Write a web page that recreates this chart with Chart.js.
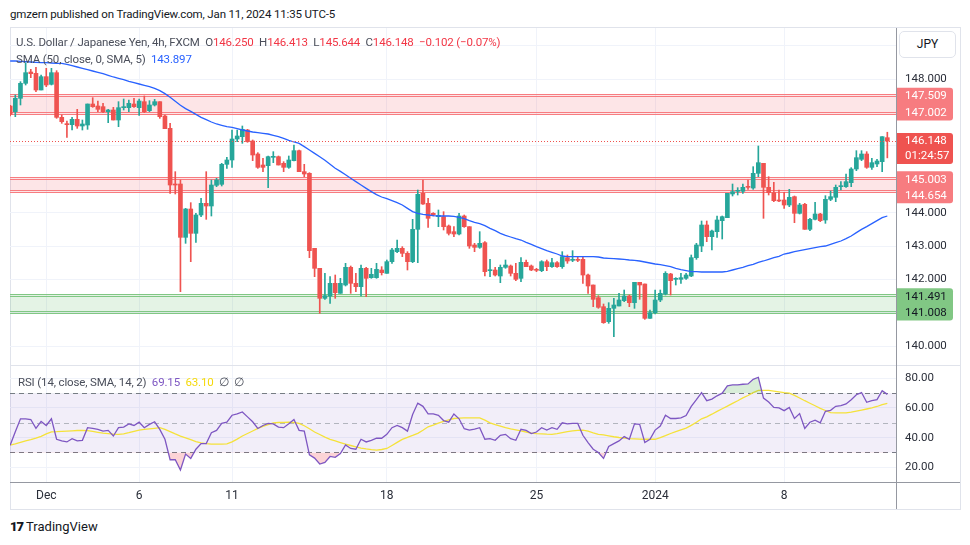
<!DOCTYPE html>
<html>
<head>
<meta charset="utf-8">
<title>USDJPY 4h</title>
<script src="https://cdn.jsdelivr.net/npm/chart.js@4.4.1/dist/chart.umd.min.js"></script>
<style>
  html, body { margin: 0; padding: 0; background: #fff; }
  body { width: 970px; height: 545px; position: relative; overflow: hidden; font-family: Roboto, "Noto Sans", sans-serif; color: #131722; }
  .abs { position: absolute; white-space: nowrap; }
  #published { left: 10px; top: 7px; font-size: 11.5px; letter-spacing: -0.15px; }
  #frame { left: 10px; top: 27px; width: 949px; height: 481px; border: 1px solid #E0E3EB; }
  #sep1 { left: 10px; top: 365px; width: 950px; height: 1px; background: #E0E3EB; }
  #sep2 { left: 10px; top: 482px; width: 950px; height: 1px; background: #9598A1; }
  #vaxis { left: 896px; top: 28px; width: 1px; height: 481px; background: #9598A1; }
  #mainWrap { left: 10px; top: 28px; }
  #rsiWrap { left: 10px; top: 366px; }
  .legend { font-size: 11.5px; letter-spacing: -0.15px; color: #4A4E5A; }
  #legend1 { left: 16px; top: 35px; }
  #legend2 { left: 16px; top: 52px; }
  #rsiLegend { left: 18px; top: 375px; }
  .red { color: #F23645; }
  #jpy { left: 899px; top: 31px; width: 55px; height: 25px; border: 1px solid #E0E3EB; border-radius: 5px; font-size: 12px; line-height: 25px; text-align: center; background: #fff; }
  #footer { left: 10px; top: 519px; font-size: 13px; color: #131722; }
  #footer b { font-weight: 900; letter-spacing: -1px; margin-right: 3px; }
</style>
</head>
<body>
<div class="abs" id="published">gmzern published on TradingView.com, Jan 11, 2024 11:35 UTC-5</div>
<div class="abs" id="frame"></div>
<div class="abs" id="mainWrap"><canvas id="mainChart" width="950" height="337"></canvas></div>
<div class="abs" id="rsiWrap"><canvas id="rsiChart" width="950" height="143"></canvas></div>
<div class="abs" id="sep1"></div>
<div class="abs" id="sep2"></div>
<div class="abs" id="vaxis"></div>
<div class="abs legend" id="legend1">U.S. Dollar / Japanese Yen, 4h, FXCM&nbsp; O<span class="red">146.250</span>&nbsp; H<span class="red">146.413</span>&nbsp; L<span class="red">145.644</span>&nbsp; C<span class="red">146.148</span>&nbsp; <span class="red">−0.102 (−0.07%)</span></div>
<div class="abs legend" id="legend2">SMA (50, close, 0, SMA, 5)&nbsp; <span style="color:#2962FF">143.897</span></div>
<div class="abs legend" id="rsiLegend">RSI (14, close, SMA, 14, 2)&nbsp; <span style="color:#7E57C2">69.15</span>&nbsp; <span style="color:#F5D90A">63.10</span>&nbsp; ∅&nbsp; ∅</div>
<div class="abs" id="jpy">JPY</div>
<div class="abs" id="footer"><b>17</b>TradingView</div>

<script>
// 4h candles, Nov 30 2023 .. Jan 11 2024 (index 0 is cut by the left edge)
const opens = [
  147.20,147.03,147.43,147.88,148.22,148.18,147.68,148.08,147.85,148.20,
  146.86,146.66,146.64,146.80,146.60,146.63,147.26,147.20,147.18,147.03,
  147.08,146.78,147.15,147.15,147.26,147.15,147.33,147.06,147.23,147.33,
  146.90,146.53,144.85,144.86,143.26,144.11,143.38,143.93,144.28,144.20,
  144.82,144.85,145.45,145.58,146.21,146.28,146.48,146.15,145.76,145.43,
  145.41,145.66,145.68,145.48,145.36,145.56,145.86,145.23,145.18,142.93,
  142.33,141.43,141.50,141.88,141.58,141.83,142.36,141.88,141.78,142.33,
  142.05,142.05,142.28,142.18,142.53,142.83,142.93,142.78,142.53,143.50,
  144.58,144.28,143.98,143.88,143.88,143.60,143.43,143.36,143.90,143.58,
  143.03,142.96,143.10,142.26,142.28,142.10,142.36,142.40,142.18,142.03,
  142.51,142.40,142.30,142.26,142.53,142.38,142.50,142.38,142.65,142.57,
  142.59,142.60,142.13,141.83,141.45,141.18,140.73,141.13,141.20,141.36,
  141.50,141.30,141.91,141.86,140.83,141.00,141.38,141.56,142.16,142.00,
  142.00,142.03,142.10,142.65,143.00,143.63,143.28,143.43,143.76,143.85,
  144.56,144.64,144.64,144.78,144.74,145.18,145.48,144.76,144.60,144.38,
  144.38,144.23,144.48,143.98,144.25,143.50,143.80,143.96,143.78,144.40,
  144.46,144.78,144.78,144.90,145.31,145.60,145.76,145.36,145.46,145.53,
  146.25
];
const highs = [
  147.22,147.53,147.93,148.50,148.30,148.36,148.13,148.33,148.33,148.26,
  146.93,146.75,146.86,147.10,146.78,147.26,147.45,147.35,147.28,147.10,
  147.16,147.33,147.41,147.38,147.43,147.41,147.50,147.36,147.40,147.33,
  146.93,146.68,145.23,144.98,144.13,144.30,143.98,144.43,145.23,144.98,
  145.03,145.48,145.66,146.48,146.48,146.60,146.50,146.18,145.80,145.63,
  145.70,145.83,145.70,145.53,145.70,146.03,145.88,145.45,145.20,142.93,
  142.33,142.18,142.08,142.13,142.03,142.48,142.40,142.18,142.43,142.36,
  142.33,142.48,142.38,142.58,142.93,143.18,142.98,142.83,143.80,144.68,
  144.98,144.43,144.00,144.08,144.03,143.63,143.58,143.98,143.93,143.58,
  143.08,143.43,143.13,142.60,142.36,142.43,142.58,142.43,142.48,142.65,
  142.58,142.43,142.33,142.56,142.58,142.63,142.53,142.83,142.73,142.86,
  142.68,142.66,142.16,141.83,141.51,141.26,141.30,141.43,141.58,141.68,
  141.53,141.91,141.91,141.86,141.08,141.68,141.68,142.23,142.18,142.05,
  142.18,142.18,142.73,143.08,143.75,143.75,143.48,143.90,143.90,144.58,
  144.86,144.75,144.86,144.98,145.38,146.00,145.48,145.08,144.91,144.68,
  144.61,144.70,144.50,144.28,144.28,143.83,144.31,143.98,144.51,144.65,
  144.83,144.93,145.16,145.35,145.86,145.86,145.83,145.63,145.60,146.28,
  146.413
];
const lows = [
  146.90,146.88,147.23,147.83,148.05,147.63,147.68,147.78,147.83,146.83,
  146.68,146.26,146.48,146.53,146.48,146.50,147.16,147.03,147.00,146.70,
  146.78,146.58,147.08,147.03,147.16,146.92,147.00,147.03,147.20,146.83,
  146.52,144.58,144.56,141.63,143.08,142.53,143.11,143.88,143.80,143.90,
  144.78,144.80,145.33,145.36,146.13,146.08,146.11,145.56,145.33,145.23,
  144.75,145.50,145.43,145.23,145.33,145.55,145.23,145.08,142.65,142.08,
  140.98,141.40,141.28,141.43,141.58,141.80,141.58,141.63,141.50,141.48,
  142.03,142.03,142.13,142.18,142.48,142.80,142.68,142.28,142.50,142.50,
  144.25,143.56,143.90,143.58,143.48,143.33,143.28,143.33,143.56,142.93,
  142.83,142.93,142.10,142.08,142.10,141.90,142.33,142.10,141.96,141.93,
  142.38,142.26,142.23,142.23,142.26,142.36,142.36,142.33,142.48,142.53,
  142.53,141.88,141.58,141.18,141.13,140.68,140.68,140.28,141.20,141.33,
  141.18,141.13,141.40,140.80,140.83,140.96,141.33,141.53,141.53,141.83,
  141.88,142.00,142.08,142.60,142.83,143.13,142.88,143.26,143.21,143.85,
  144.50,144.53,144.58,144.70,144.70,145.08,143.83,144.53,144.33,144.33,
  144.13,144.18,143.70,143.96,143.50,143.46,143.78,143.73,143.68,144.36,
  144.33,144.68,144.76,144.78,145.26,145.56,145.33,145.30,145.38,145.23,
  145.644
];
const closes = [
  146.95,147.43,147.88,148.20,148.17,147.68,148.08,147.83,148.20,146.86,
  146.73,146.64,146.80,146.60,146.66,147.26,147.18,147.10,147.03,147.08,
  146.78,147.15,147.18,147.28,147.18,147.35,147.03,147.23,147.33,146.88,
  146.52,144.83,144.83,143.26,144.11,143.38,143.93,144.28,144.20,144.83,
  144.98,145.45,145.58,146.21,146.30,146.50,146.13,145.73,145.36,145.36,
  145.68,145.68,145.43,145.36,145.58,145.86,145.23,145.16,142.86,142.33,
  141.43,141.51,141.88,141.60,141.88,142.36,141.88,141.78,142.33,142.03,
  142.15,142.30,142.20,142.53,142.88,142.93,142.78,142.53,143.50,144.55,
  144.26,143.83,143.94,143.92,143.58,143.38,143.36,143.90,143.58,143.00,
  142.96,143.08,142.23,142.28,142.13,142.36,142.43,142.18,142.00,142.51,
  142.38,142.28,142.27,142.53,142.38,142.50,142.38,142.68,142.55,142.59,
  142.57,142.13,141.80,141.40,141.16,140.70,141.13,141.23,141.38,141.50,
  141.30,141.91,141.83,140.83,141.00,141.38,141.58,142.18,141.96,142.02,
  142.05,142.13,142.65,143.03,143.63,143.28,143.45,143.78,143.88,144.58,
  144.63,144.66,144.76,144.76,145.18,145.50,144.76,144.60,144.36,144.35,
  144.23,144.46,143.98,144.23,143.50,143.80,143.96,143.76,144.40,144.48,
  144.76,144.81,144.93,145.31,145.65,145.76,145.36,145.50,145.55,146.28,
  146.148
];
// SMA(50) as drawn
const sma50 = [
  148.55,148.55,148.54,148.53,148.52,148.51,148.50,148.50,148.49,148.48,
  148.48,148.45,148.41,148.37,148.33,148.29,148.25,148.21,148.17,148.12,
  148.07,148.03,147.99,147.94,147.90,147.86,147.82,147.78,147.73,147.66,
  147.57,147.46,147.34,147.22,147.12,147.04,146.95,146.86,146.79,146.72,
  146.66,146.62,146.58,146.56,146.52,146.48,146.45,146.42,146.40,146.38,
  146.36,146.32,146.28,146.23,146.17,146.12,146.08,145.98,145.88,145.78,
  145.68,145.57,145.45,145.33,145.24,145.14,145.03,144.93,144.83,144.73,
  144.63,144.54,144.47,144.42,144.36,144.30,144.23,144.13,144.03,143.98,
  143.95,143.93,143.91,143.90,143.90,143.90,143.89,143.86,143.82,143.76,
  143.71,143.67,143.61,143.53,143.46,143.38,143.32,143.27,143.22,143.18,
  143.11,143.05,142.98,142.92,142.86,142.81,142.76,142.70,142.68,142.68,
  142.68,142.68,142.68,142.68,142.67,142.64,142.63,142.62,142.61,142.60,
  142.58,142.57,142.55,142.52,142.49,142.46,142.44,142.41,142.38,142.33,
  142.29,142.26,142.23,142.23,142.22,142.22,142.22,142.22,142.22,142.24,
  142.28,142.32,142.36,142.41,142.45,142.51,142.55,142.60,142.65,142.69,
  142.76,142.79,142.83,142.86,142.89,142.92,142.95,142.98,143.00,143.05,
  143.10,143.15,143.22,143.30,143.40,143.50,143.58,143.67,143.76,143.85,
  143.90
];
// RSI(14) and its SMA(14)
const rsiValues = [
  34.9,44.0,52.7,52.7,52.2,46.2,50.9,48.2,52.7,38.9,
  37.8,37.1,39.3,37.8,38.2,46.7,46.2,45.6,44.4,44.9,
  41.1,46.7,47.1,49.3,48.2,50.4,46.7,48.9,50.7,45.6,
  38.9,25.1,25.1,18.2,28.9,26.0,32.2,36.0,36.0,43.3,
  44.9,49.6,50.4,55.1,56.0,57.3,54.0,50.7,46.2,48.2,
  49.6,49.3,47.1,46.7,49.3,52.2,44.9,44.4,28.4,26.2,
  22.2,23.3,27.3,26.7,29.3,35.1,32.7,32.2,38.9,37.1,
  38.2,39.6,39.6,42.2,46.7,48.2,46.7,44.4,55.6,63.3,
  61.1,56.0,56.0,55.0,51.5,50.4,56.0,52.7,46.0,45.1,
  45.8,46.7,38.9,39.3,38.2,41.6,42.2,39.3,38.2,45.6,
  44.9,42.7,43.8,46.7,45.1,46.7,45.6,50.0,49.3,49.6,
  49.6,41.6,36.7,32.2,30.0,26.0,34.0,36.0,37.8,40.7,
  38.9,49.3,48.9,36.7,38.9,45.1,47.8,55.1,52.9,52.9,
  53.3,54.9,61.1,65.6,70.4,64.9,66.0,68.2,70.0,74.9,
  75.6,75.6,76.0,76.2,79.3,80.7,66.7,64.0,60.4,60.0,
  58.2,60.4,52.9,56.2,46.2,50.4,51.8,50.0,57.8,58.4,
  61.1,61.6,62.7,65.6,68.9,70.4,63.8,64.9,65.6,71.6,
  69.15
];
const rsiMaValues = [
  34.9,35.8,36.8,37.8,38.6,39.6,40.9,42.5,43.9,44.0,
  44.2,44.4,44.6,44.8,44.9,44.7,44.2,43.6,43.0,42.7,
  42.4,42.2,42.5,43.3,44.3,45.1,45.5,45.9,46.3,46.7,
  45.5,44.1,42.5,41.0,39.8,38.6,37.3,36.5,36.0,35.6,
  35.6,35.6,35.8,37.1,39.0,41.1,42.8,44.5,46.2,47.6,
  48.8,50.0,50.2,50.3,50.4,50.2,49.6,48.0,46.0,43.8,
  42.1,40.3,38.9,37.8,36.7,35.6,34.7,33.8,33.0,32.4,
  31.9,31.6,32.0,32.7,34.7,36.8,38.8,40.2,41.5,42.9,
  45.0,47.3,48.5,49.8,51.0,52.0,52.9,53.1,53.3,53.3,
  53.3,53.3,51.8,50.0,48.7,47.7,46.7,45.9,45.2,44.5,
  43.8,43.1,42.7,42.5,42.3,42.2,42.7,43.4,44.0,44.5,
  44.9,45.1,44.4,43.2,42.2,41.8,41.2,40.6,40.1,39.7,
  39.3,39.2,39.0,38.9,38.9,38.9,40.0,41.3,42.8,44.0,
  45.2,46.4,48.3,50.4,52.7,54.0,55.8,57.7,59.5,61.2,
  63.1,64.9,66.8,68.4,70.3,71.8,71.8,71.8,71.4,70.9,
  70.4,70.0,68.5,66.7,64.9,63.2,61.5,59.7,58.3,56.9,
  56.7,56.7,56.7,57.2,57.9,58.6,59.3,60.0,61.0,62.3,
  63.1
];

// time axis: candle index of each date label
const tickIdx = [7, 25, 43, 73, 102, 125, 150];
const tickLabels = ['Dec', '6', '11', '18', '25', '2024', '8'];
const priceTicks = [140, 141, 142, 143, 144, 145, 146, 147, 148, 149];
const rsiTicks = [20, 40, 60, 80];
const rsiLevels = [70, 50, 30];

// drawn zones (upper / lower price)
const zoneHigh = [147.509, 145.003, 141.491];
const zoneLow = [147.002, 144.654, 141.008];
const countdown = '01:24:57';

const GREEN = '#26A69A';
const RED = '#EF5350';
const GRID = '#F0F3FA';
const AXIS_TEXT = '#2A2E39';
const zoneFill = ['rgba(242,54,69,0.13)', 'rgba(242,54,69,0.13)', 'rgba(76,175,80,0.15)'];
const zoneLine = ['#F77C80', '#F77C80', '#81C784'];
const zoneTag = ['#F77C80', '#F77C80', '#81C784'];
const zoneTagText = ['#FFFFFF', '#FFFFFF', '#131722'];

const X_MIN = -0.03;
const X_MAX = 171.68;
const last = closes.length - 1;
const idx = closes.map((_, i) => i);
const candleColors = idx.map(i => closes[i] >= opens[i] ? GREEN : RED);

Chart.defaults.font.family = 'Roboto, "Noto Sans", sans-serif';
Chart.defaults.animation = false;

function noPad(s) {
    s.paddingTop = 0;
    s.paddingBottom = 0;
    s.paddingLeft = 0;
    s.paddingRight = 0;
}

function timeAxis(showLabels) {
    return {
        type: 'linear',
        min: X_MIN,
        max: X_MAX,
        offset: false,
        grid: { color: GRID, drawTicks: false, offset: false },
        border: { display: false },
        afterBuildTicks: s => { s.ticks = tickIdx.map(v => ({ value: v })); },
        ticks: {
            display: showLabels,
            autoSkip: false,
            maxRotation: 0,
            padding: 6,
            color: AXIS_TEXT,
            font: { size: 12 },
            callback: (v, i) => tickLabels[i]
        },
        afterFit: s => {
            s.height = showLabels ? 26.5 : 0;
            noPad(s);
        }
    };
}

function roundRect(ctx, x, y, w, h) {
    ctx.beginPath();
    ctx.roundRect(x, y, w, h, [0, 3, 3, 0]);
    ctx.fill();
}

/**
 * Zones, last price line and price tags of the main pane
 */
const pricePlugin = {
    id: 'priceExtras',
    beforeDatasetsDraw(chart) {
        const { ctx, chartArea: a, scales: { y } } = chart;
        ctx.save();
        zoneHigh.forEach((hi, k) => {
            const top = Math.round(y.getPixelForValue(hi));
            const bot = Math.round(y.getPixelForValue(zoneLow[k]));
            ctx.fillStyle = zoneFill[k];
            ctx.fillRect(a.left, top - 2, a.width, bot - top + 4);
            ctx.fillStyle = zoneLine[k];
            [top - 2, top, bot - 1, bot + 1].forEach(p => ctx.fillRect(a.left, p, a.width, 1));
        });
        ctx.restore();
    },
    afterDatasetsDraw(chart) {
        const { ctx, chartArea: a, scales: { y } } = chart;
        const py = Math.round(y.getPixelForValue(closes[last])) + 0.5;
        ctx.save();
        ctx.strokeStyle = RED;
        ctx.lineWidth = 1;
        ctx.setLineDash([1, 2]);
        ctx.beginPath();
        ctx.moveTo(a.left, py);
        ctx.lineTo(a.right, py);
        ctx.stroke();
        ctx.restore();
    },
    afterDraw(chart) {
        const { ctx, chartArea: a, scales: { y } } = chart;
        const x0 = a.right + 1;
        const tx = a.right + 9;
        ctx.save();
        ctx.font = '11.5px Roboto, sans-serif';
        ctx.textBaseline = 'middle';
        ctx.textAlign = 'left';
        zoneHigh.forEach((hi, k) => {
            const y0 = y.getPixelForValue(hi);
            const y1 = Math.max(y.getPixelForValue(zoneLow[k]), y0 + 16);
            ctx.fillStyle = zoneTag[k];
            roundRect(ctx, x0, y0 - 8, 56, y1 - y0 + 16);
            ctx.fillStyle = zoneTagText[k];
            ctx.fillText(hi.toFixed(3), tx, y0 + 0.5);
            ctx.fillText(zoneLow[k].toFixed(3), tx, y1 + 0.5);
        });
        const yp = y.getPixelForValue(closes[last]);
        ctx.fillStyle = candleColors[last];
        roundRect(ctx, x0, yp - 8, 56, 31);
        ctx.fillStyle = '#FFFFFF';
        ctx.fillText(closes[last].toFixed(3), tx, yp + 0.5);
        ctx.fillText(countdown, tx, yp + 15.5);
        ctx.restore();
    }
};

/**
 * RSI band and level lines
 */
const rsiPlugin = {
    id: 'rsiBand',
    beforeDatasetsDraw(chart) {
        const { ctx, chartArea: a, scales: { y } } = chart;
        const top = y.getPixelForValue(rsiLevels[0]);
        const bot = y.getPixelForValue(rsiLevels[2]);
        ctx.save();
        ctx.fillStyle = 'rgba(126,87,194,0.1)';
        ctx.fillRect(a.left, top, a.width, bot - top);
        ctx.lineWidth = 1;
        ctx.setLineDash([5, 4]);
        rsiLevels.forEach((v, k) => {
            const py = Math.round(y.getPixelForValue(v)) + 0.5;
            ctx.strokeStyle = k === 1 ? '#B2B5BE' : '#787B86';
            ctx.beginPath();
            ctx.moveTo(a.left, py);
            ctx.lineTo(a.right, py);
            ctx.stroke();
        });
        ctx.restore();
    }
};

// Main price pane
new Chart(document.getElementById('mainChart'), {
    type: 'bar',
    data: {
        datasets: [
            {
                type: 'line',
                label: 'SMA 50',
                data: idx.map(i => ({ x: i, y: sma50[i] })),
                borderColor: '#2962FF',
                borderWidth: 1.3,
                pointRadius: 0,
                order: 0
            },
            {
                label: 'Body',
                data: idx.map(i => ({ x: i, y: [opens[i], closes[i]] })),
                backgroundColor: candleColors,
                barThickness: 4,
                minBarLength: 1,
                grouped: false,
                clip: 0,
                order: 1
            },
            {
                label: 'Wick',
                data: idx.map(i => ({ x: i, y: [lows[i], highs[i]] })),
                backgroundColor: candleColors,
                barThickness: 1,
                grouped: false,
                clip: 0,
                order: 2
            }
        ]
    },
    options: {
        responsive: false,
        layout: { padding: 0 },
        plugins: { legend: { display: false }, tooltip: { enabled: false } },
        scales: {
            x: timeAxis(false),
            y: {
                position: 'right',
                min: 139.43,
                max: 149.54,
                grid: { color: GRID, drawTicks: false },
                border: { display: false },
                afterBuildTicks: s => { s.ticks = priceTicks.map(v => ({ value: v })); },
                ticks: {
                    padding: 9,
                    color: AXIS_TEXT,
                    font: { size: 11.5 },
                    callback: v => v.toFixed(3)
                },
                afterFit: s => {
                    s.width = 64;
                    noPad(s);
                }
            }
        }
    },
    plugins: [pricePlugin]
});

// RSI pane with time axis
new Chart(document.getElementById('rsiChart'), {
    type: 'line',
    data: {
        datasets: [
            {
                label: 'RSI',
                data: idx.map(i => ({ x: i, y: rsiValues[i] })),
                borderColor: '#7E57C2',
                borderWidth: 1.3,
                pointRadius: 0,
                fill: { target: { value: 70 }, above: 'rgba(76,175,80,0.22)', below: 'rgba(0,0,0,0)' }
            },
            {
                label: 'RSI low',
                data: idx.map(i => ({ x: i, y: rsiValues[i] })),
                borderWidth: 0,
                borderColor: 'rgba(0,0,0,0)',
                pointRadius: 0,
                fill: { target: { value: 30 }, above: 'rgba(0,0,0,0)', below: 'rgba(242,54,69,0.22)' }
            },
            {
                label: 'RSI MA',
                data: idx.map(i => ({ x: i, y: rsiMaValues[i] })),
                borderColor: '#F5E23A',
                borderWidth: 1.3,
                pointRadius: 0,
                fill: false
            }
        ]
    },
    options: {
        responsive: false,
        layout: { padding: 0 },
        plugins: { legend: { display: false }, tooltip: { enabled: false } },
        scales: {
            x: timeAxis(true),
            y: {
                position: 'right',
                min: 9.75,
                max: 88.3,
                grid: { color: GRID, drawTicks: false },
                border: { display: false },
                afterBuildTicks: s => { s.ticks = rsiTicks.map(v => ({ value: v })); },
                ticks: {
                    padding: 9,
                    color: AXIS_TEXT,
                    font: { size: 11.5 },
                    callback: v => v.toFixed(2)
                },
                afterFit: s => {
                    s.width = 64;
                    noPad(s);
                }
            }
        }
    },
    plugins: [rsiPlugin]
});
</script>
</body>
</html>
